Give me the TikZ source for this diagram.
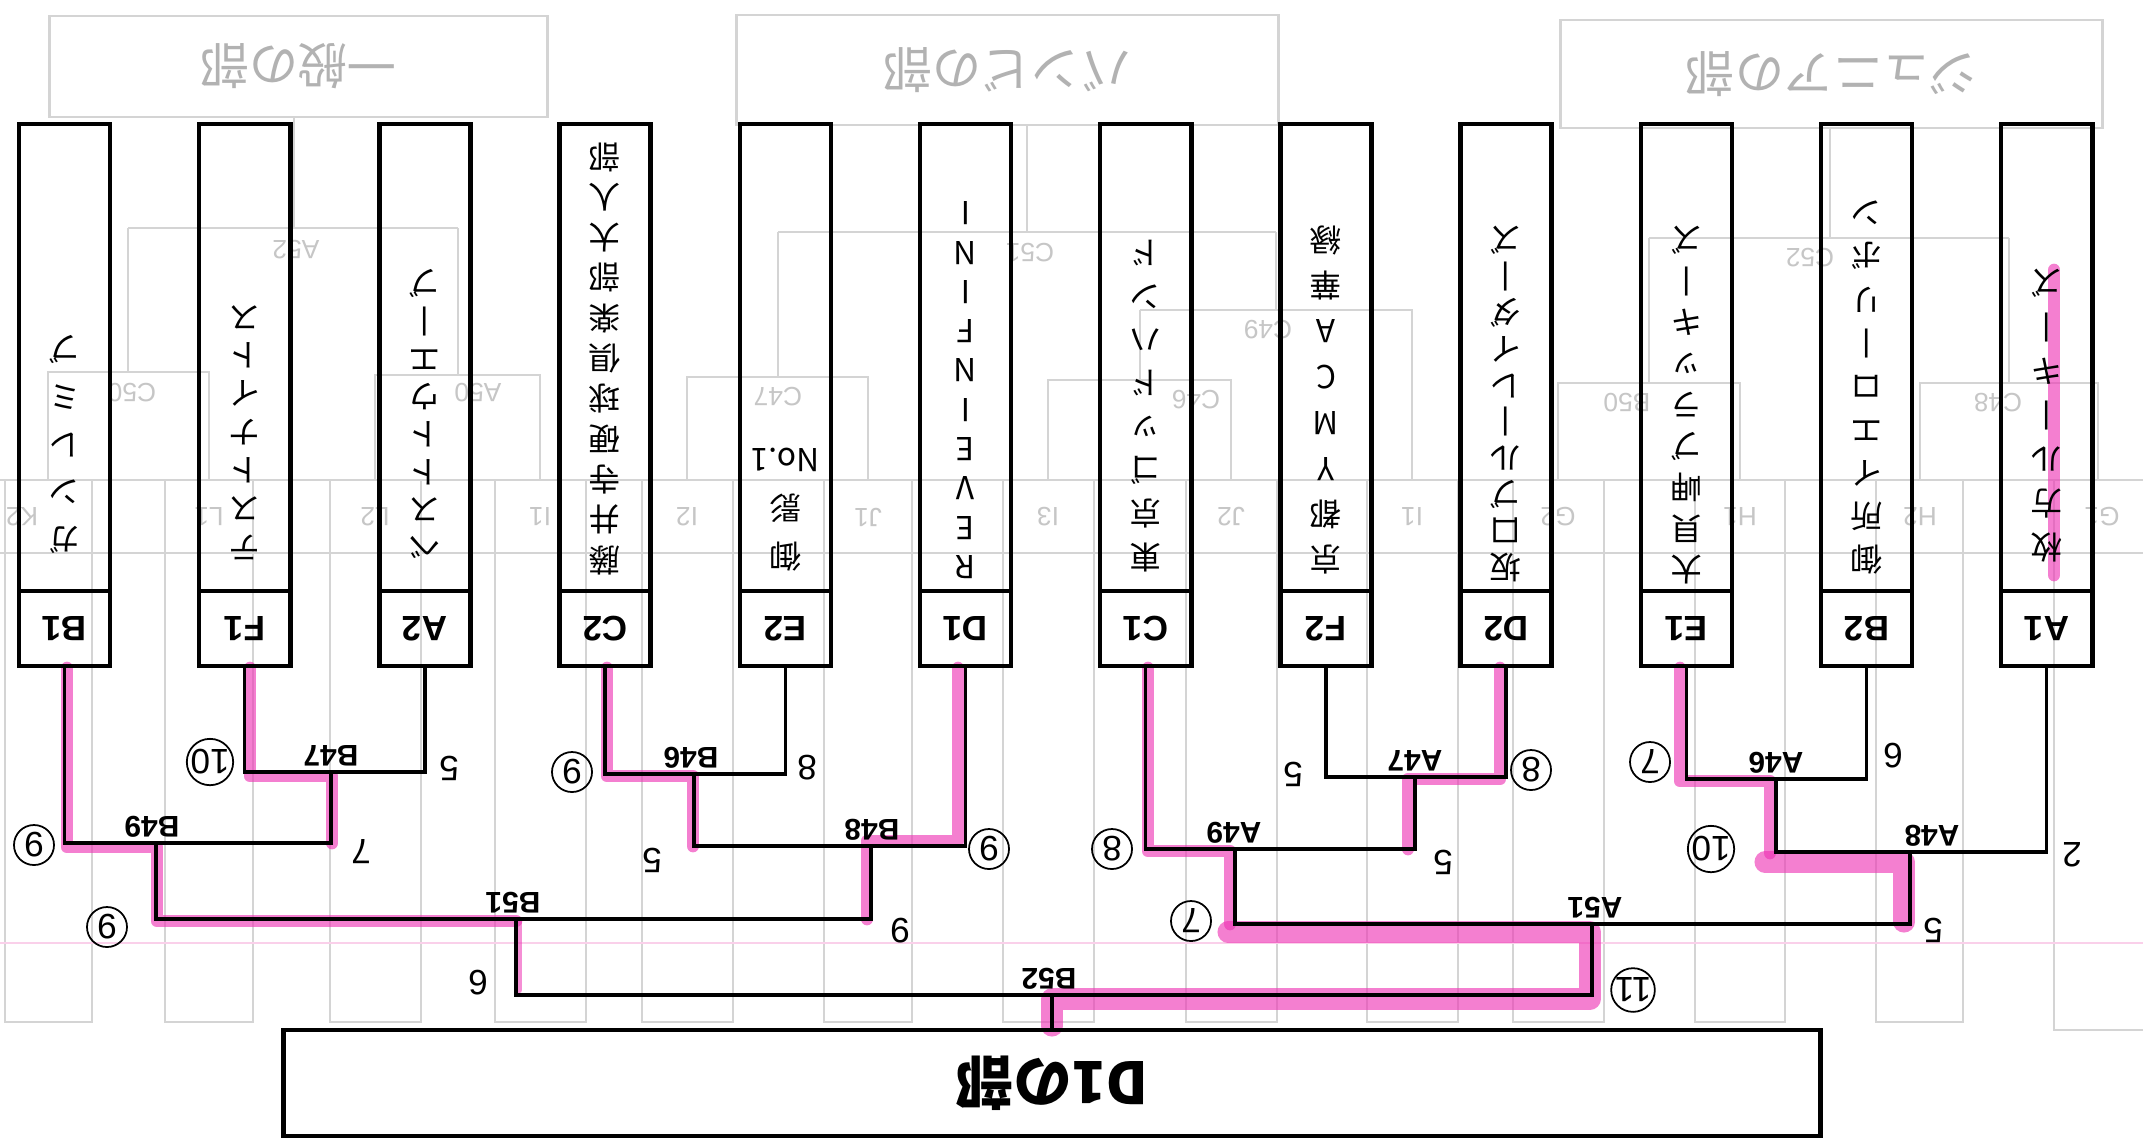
\documentclass[tikz,border=0pt]{standalone}
\usepackage{fontspec}
\usepackage{graphicx}
\setmainfont{Liberation Sans}
\newfontfamily\jpfont{Noto Sans CJK JP}
\definecolor{hlpink}{RGB}{238,50,180}
\definecolor{faintgray}{RGB}{212,212,212}
\definecolor{fainttext}{RGB}{198,198,198}
\definecolor{hdrtext}{RGB}{178,178,178}
\definecolor{faintpink}{RGB}{250,208,234}
\tikzset{
  namebox/.style={draw=black, line width=1.3pt, minimum width=0.91cm, minimum height=4.67cm, inner sep=0pt},
  codebox/.style={draw=black, line width=1.3pt, minimum width=0.91cm, minimum height=0.75cm, inner sep=0pt, font=\bfseries\fontsize{10}{12}\selectfont},
  bracket/.style={draw=black, line width=1.0pt},
  hlpath/.style={draw=hlpink, opacity=0.62, line width=3.6pt, line cap=round, line join=round},
  hlwide/.style={draw=hlpink, opacity=0.62, line width=6pt, line cap=round, line join=round},
  hlthin/.style={draw=hlpink, opacity=0.55, line width=1.8pt, line cap=round},
  faintline/.style={draw=faintgray, line width=0.55pt},
  hdrbox/.style={draw=faintgray, line width=0.8pt, inner sep=0pt, text=hdrtext, font=\jpfont\fontsize{14}{16}\selectfont},
  finalbox/.style={draw=black, line width=1.3pt, inner sep=0pt, minimum width=15.36cm, minimum height=1.06cm, font=\jpfont\bfseries\fontsize{16.5}{18}\selectfont},
  matchlabel/.style={rotate=180, inner sep=0pt, font=\bfseries\fontsize{8.5}{10}\selectfont},
  namechar/.style={rotate=180, inner sep=0pt, font=\jpfont\fontsize{9}{10}\selectfont},
  score/.style={rotate=180, inner sep=0pt, font=\fontsize{10}{11}\selectfont},
  cscore/.style={score, draw=black, circle, line width=0.5pt, minimum size=0.4cm},
  faintlabel/.style={rotate=180, inner sep=0pt, text=fainttext, font=\fontsize{7.5}{9}\selectfont},
}
\newcommand\teamname[5]{%
  \foreach \c [count=\i] in {#5} {%
    \node[namechar] (#1n\i) at (#2,{#3-(\i-1)*#4}) {\c};
  }%
}
\begin{document}
\begin{tikzpicture}[x=0.01cm,y=-0.01cm]
\useasboundingbox (0,0) rectangle (2143,1144);
\fill[white] (0,0) rectangle (2143,1144);

% ---------- faint show-through layer ----------
\draw[faintline] (0,480) -- (2143,480);
\draw[faintline] (0,553) -- (2143,553);
\foreach \l/\r/\lx/\lab [count=\k] in {5/92/22/K2, 165/253/209/L1, 330/421/375/L2, 495/586/540/I1, 642/733/687/I2, 824/912/868/J1, 1003/1094/1048/I3, 1186/1277/1231/J2, 1367/1458/1412/I1, 1513/1604/1558/G2, 1695/1785/1740/H1, 1876/1963/1920/H2} {
  \draw[faintline] (\l,480) -- (\l,1022) -- (\r,1022) -- (\r,480);
  \node[faintlabel] (bk\k) at (\lx,517) {\lab};
}
\draw[faintline] (2054,480) -- (2054,1030) -- (2143,1030);
\node[faintlabel] (bk13) at (2102,517) {G1};
% upper faint brackets
\draw[faintline] (48,480) |- (209,372) -- (209,480);
\draw[faintline] (128,372) -- (128,228);
\draw[faintline] (375,480) |- (540,375) -- (540,480);
\draw[faintline] (458,375) -- (458,228);
\draw[faintline] (128,228) -- (458,228);
\draw[faintline] (294,228) -- (294,117);
\draw[faintline] (687,480) |- (868,377) -- (868,480);
\draw[faintline] (778,377) -- (778,232);
\draw[faintline] (1048,480) |- (1231,380) -- (1231,480);
\draw[faintline] (1140,380) -- (1140,310);
\draw[faintline] (1140,310) -- (1412,310) -- (1412,480);
\draw[faintline] (1276,310) -- (1276,232);
\draw[faintline] (778,232) -- (1276,232);
\draw[faintline] (1027,232) -- (1027,125);
\draw[faintline] (1558,480) |- (1740,383) -- (1740,480);
\draw[faintline] (1649,383) -- (1649,238);
\draw[faintline] (1920,480) |- (2098,383) -- (2098,480);
\draw[faintline] (2009,383) -- (2009,238);
\draw[faintline] (1649,238) -- (2009,238);
\draw[faintline] (1830,238) -- (1830,128);
\node[faintlabel] (fC50) at (132,393) {C50};
\node[faintlabel] (fA50) at (478,393) {A50};
\node[faintlabel] (fA52) at (296,250) {A52};
\node[faintlabel] (fC47) at (778,397) {C47};
\node[faintlabel] (fC46) at (1196,400) {C46};
\node[faintlabel] (fC49) at (1268,330) {C49};
\node[faintlabel] (fC51) at (1030,253) {C51};
\node[faintlabel] (fB50) at (1627,403) {B50};
\node[faintlabel] (fC48) at (1998,403) {C48};
\node[faintlabel] (fC52) at (1810,258) {C52};
\draw[faintpink, line width=0.6pt] (0,943) -- (2143,943);

% ---------- header boxes ----------
\node[hdrbox, minimum width=4.97cm, minimum height=1.01cm] (hdrA) at (298.5,66.5) {\rotatebox{180}{一般の部}};
\node[hdrbox, minimum width=5.41cm, minimum height=1.10cm] (hdrB) at (1007.5,70) {\rotatebox{180}{バンビの部}};
\node[hdrbox, minimum width=5.41cm, minimum height=1.08cm] (hdrC) at (1831.5,74) {\rotatebox{180}{ジュニアの部}};

% ---------- highlighter ----------
\draw[hlpath] (67,668) -- (67,847) -- (157,847) -- (157,921) -- (516,921);
\draw[hlthin] (519,921) -- (519,990);
\draw[hlpath] (250,668) -- (250,776) -- (332,776) -- (332,843);
\draw[hlpath] (607,668) -- (607,776) -- (693,776) -- (693,846);
\draw[hlpath] (958,668) -- (958,841) -- (867,841) -- (867,919);
\draw[hlpath] (1148,668) -- (1148,851) -- (1230,851) -- (1230,924);
\draw[hlwide] (1228,932) -- (1590,932) -- (1590,999) -- (1052,999) -- (1052,1026);
\draw[hlpath] (1500,668) -- (1500,779) -- (1408,779) -- (1408,849);
\draw[hlpath] (1680,668) -- (1680,781) -- (1770,781) -- (1770,853);
\draw[hlwide] (1765,862) -- (1904,862) -- (1904,922);
\draw[hlpath] (2054,270) -- (2054,575);

% ---------- team boxes ----------
\foreach \code/\cx in {B1/64.5, F1/244.7, A2/424.9, C2/605.1, E2/785.3, D1/965.5, C1/1145.7, F2/1325.9, D2/1506.1, E1/1686.3, B2/1866.5, A1/2046.7} {
  \node[namebox] (\code-box) at (\cx,357.5) {};
  \node[codebox] (\code) at (\cx,628.5) {\rotatebox{180}{\code}};
}
\teamname{B1}{64.5}{540}{47.75}{ガ,ン,レ,ミ,ブ}
\teamname{F1}{244.7}{547}{38.3}{テ,ス,ト,ナ,イ,ト,ス}
\teamname{A2}{424.9}{547}{37.6}{ベ,ス,ト,ト,ウ,エ,丨,ブ}
\teamname{C2}{605.1}{560}{40.3}{藤,井,寺,硬,球,倶,楽,部,大,人,部}
\teamname{E2}{785.3}{557}{48.5}{御,影,No.1}
\teamname{D1}{965.5}{567}{39.3}{R,E,V,E,I,N,F,I,N,I}
\teamname{C1}{1145.7}{557}{43.4}{東,京,ゴ,ッ,ド,ハ,ン,ド}
\teamname{F2}{1325.9}{560}{45.7}{京,都,Y,M,C,A,華,縁}
\teamname{D2}{1506.1}{567}{36.3}{坂,口,ブ,ル,丨,レ,イ,ダ,丨,ズ}
\teamname{E1}{1686.3}{570}{41.25}{大,貝,岬,ブ,ラ,ッ,キ,丨,ズ}
\teamname{B2}{1866.5}{560}{43.4}{御,所,イ,エ,ロ,丨,リ,ボ,ン}
\teamname{A1}{2046.7}{547}{44}{枚,方,ル,丨,キ,丨,ズ}

% ---------- final box ----------
\node[finalbox] (final) at (1052,1083) {\rotatebox{180}{D1の部}};

% ---------- bracket ----------
\coordinate (B47) at (331,772);
\coordinate (B46) at (694,774);
\coordinate (A47) at (1415,777);
\coordinate (A46) at (1776,779);
\coordinate (B49) at (156,843);
\coordinate (B48) at (871,846);
\coordinate (A49) at (1235,849);
\coordinate (A48) at (1910,852);
\coordinate (B51) at (516,919);
\coordinate (A51) at (1592,924);
\coordinate (B52) at (1052,995);
\draw[bracket] (F1.south) |- (B47) -| (A2.south);
\draw[bracket] (B1.south) |- (B49) -| (B47);
\draw[bracket] (C2.south) |- (B46) -| (E2.south);
\draw[bracket] (B46) |- (B48) -| (D1.south);
\draw[bracket] (B49) |- (B51) -| (B48);
\draw[bracket] (F2.south) |- (A47) -| (D2.south);
\draw[bracket] (C1.south) |- (A49) -| (A47);
\draw[bracket] (E1.south) |- (A46) -| (B2.south);
\draw[bracket] (A46) |- (A48) -| (A1.south);
\draw[bracket] (A49) |- (A51) -| (A48);
\draw[bracket] (B51) |- (B52) -| (A51);
\draw[bracket] (B52) -- (B52 |- final.north);

\node[matchlabel] (lB47) at (331,756) {B47};
\node[matchlabel] (lB46) at (691,758) {B46};
\node[matchlabel] (lA47) at (1415,761) {A47};
\node[matchlabel] (lA46) at (1776,763) {A46};
\node[matchlabel] (lB49) at (152,827) {B49};
\node[matchlabel] (lB48) at (872,830) {B48};
\node[matchlabel] (lA49) at (1234,833) {A49};
\node[matchlabel] (lA48) at (1932,836) {A48};
\node[matchlabel] (lB51) at (513,903) {B51};
\node[matchlabel] (lA51) at (1595,908) {A51};
\node[matchlabel] (lB52) at (1049,979) {B52};

% ---------- scores ----------
\node[cscore] (s1) at (210,762) {10};
\node[score] (s2) at (449,768) {5};
\node[cscore] (s3) at (34,845) {9};
\node[score] (s4) at (361,852) {7};
\node[cscore] (s5) at (107,927) {9};
\node[score] (s6) at (900,931) {9};
\node[score] (s7) at (478,983) {6};
\node[cscore] (s8) at (572,772) {9};
\node[score] (s9) at (807,768) {8};
\node[score] (s10) at (652,860) {5};
\node[cscore] (s11) at (989,849) {9};
\node[score] (s12) at (1293,774) {5};
\node[cscore] (s13) at (1531,770) {8};
\node[cscore] (s14) at (1112,849) {8};
\node[score] (s15) at (1443,862) {5};
\node[cscore] (s16) at (1191,921) {7};
\node[score] (s17) at (1933,930) {5};
\node[cscore] (s18) at (1633,990) {11};
\node[cscore] (s19) at (1650,762) {7};
\node[score] (s20) at (1893,756) {6};
\node[cscore] (s21) at (1711,849) {10};
\node[score] (s22) at (2072,855) {2};
\end{tikzpicture}
\end{document}
